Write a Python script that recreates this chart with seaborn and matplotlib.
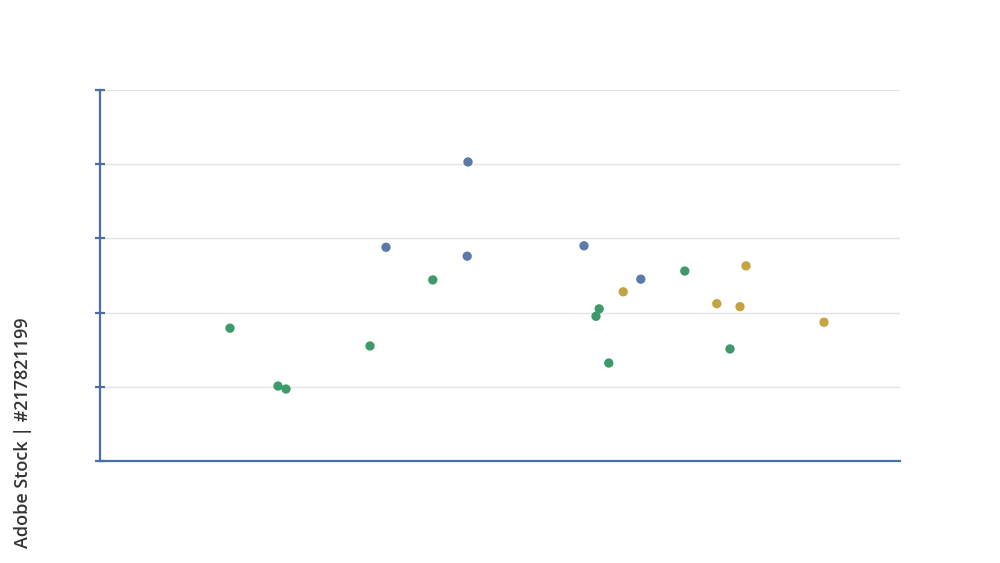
import matplotlib
matplotlib.use("Agg")
import matplotlib.pyplot as plt
import seaborn as sns
import pandas as pd

green_x = [16.25, 22.25, 23.25, 33.75, 41.6, 62.4, 62.0, 63.6, 73.1, 78.75]
green_y = [17.9, 10.1, 9.7, 15.5, 24.4, 20.5, 19.5, 13.2, 25.6, 15.1]
blue_x = [35.75, 46.0, 45.9, 60.5, 67.6]
blue_y = [28.8, 40.3, 27.6, 29.0, 24.5]
gold_x = [65.4, 77.1, 80.0, 80.75, 90.5]
gold_y = [22.8, 21.2, 20.8, 26.3, 18.7]
y_ticks = [0, 10, 20, 30, 40, 50]

df = pd.DataFrame({
    "x": green_x + blue_x + gold_x,
    "y": green_y + blue_y + gold_y,
    "group": ["green"] * len(green_x) + ["blue"] * len(blue_x) + ["gold"] * len(gold_x),
})
palette = {"green": "#3f9a6b", "blue": "#5b79a9", "gold": "#c4a440"}

sns.set_style("white")
fig = plt.figure(figsize=(10, 5.63), dpi=100)
ax = fig.add_axes([0.1, 0.1812, 0.8, 0.659])
sns.scatterplot(data=df, x="x", y="y", hue="group", palette=palette, s=45,
                edgecolor="none", legend=False, ax=ax, zorder=3)
ax.set_xlim(0, 100)
ax.set_ylim(0, 50)
ax.set_yticks(y_ticks)
ax.set_yticklabels([])
ax.set_xticks([])
ax.set_xlabel("")
ax.set_ylabel("")
ax.grid(axis="y", color="#e3e3e3", linewidth=1)
ax.set_axisbelow(True)
for s in ["top", "right"]:
    ax.spines[s].set_visible(False)
for s in ["left", "bottom"]:
    ax.spines[s].set_color("#4a6ea6")
    ax.spines[s].set_linewidth(1.6)
ax.tick_params(axis="y", direction="inout", length=7, width=1.6, color="#4a6ea6", left=True)

fig.text(0.023, 0.027, "Adobe Stock | #217821199", rotation=90, ha="center", va="bottom",
         fontsize=13, fontweight="semibold", color="#333333", family=["Open Sans", "DejaVu Sans"])

fig.savefig("out.png", dpi=100)
